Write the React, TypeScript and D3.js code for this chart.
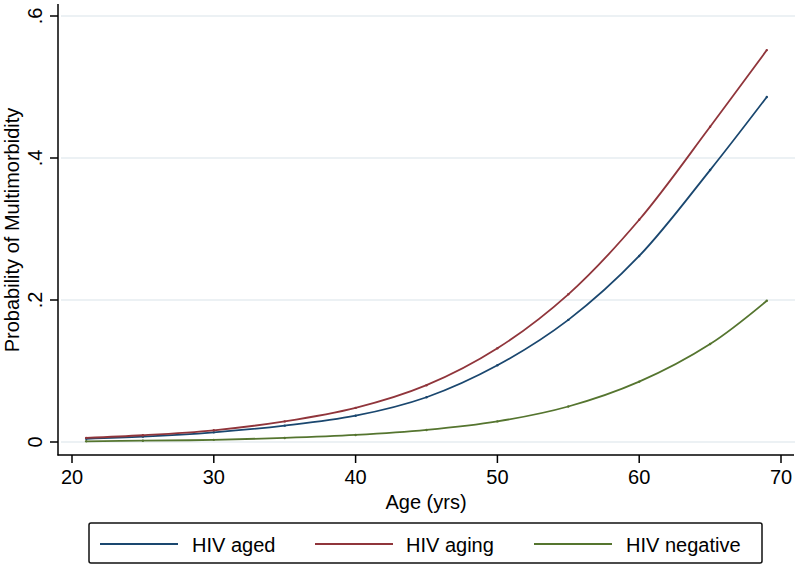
import React from "react";
import * as d3 from "d3";

const ages = [21, 25, 30, 35, 40, 45, 50, 55, 60, 65, 69];
const hivAged = [0.0045, 0.0075, 0.0136, 0.023, 0.037, 0.063, 0.108, 0.172, 0.262, 0.383, 0.486];
const hivAging = [0.0058, 0.0095, 0.0165, 0.029, 0.048, 0.08, 0.132, 0.208, 0.313, 0.444, 0.552];
const hivNegative = [0.001, 0.0018, 0.003, 0.0057, 0.0099, 0.017, 0.029, 0.05, 0.085, 0.138, 0.199];

const xTicks = [20, 30, 40, 50, 60, 70];
const yTicks = [0, 0.2, 0.4, 0.6];
const yTickLabels = ["0", ".2", ".4", ".6"];

const seriesNames = ["HIV aged", "HIV aging", "HIV negative"];
const seriesColors = ["#1a476f", "#90353b", "#55752f"];
const seriesValues = [hivAged, hivAging, hivNegative];

const FONT = "'Liberation Sans', Arial, Helvetica, sans-serif";

export default function App() {
  const W = 798;
  const H = 567;
  const axisLeft = 58;
  const axisRight = 794;
  const axisBottom = 455;
  const axisTop = 4;

  const x = d3.scaleLinear().domain([20, 70]).range([72, 781]);
  const y = d3.scaleLinear().domain([0, 0.6]).range([442, 16]);

  const line = d3
    .line<[number, number]>()
    .x((d) => x(d[0]))
    .y((d) => y(d[1]))
    .curve(d3.curveCatmullRom.alpha(0.5));

  const legendItems = [
    { lx: 100, tx: 192 },
    { lx: 315, tx: 406 },
    { lx: 534, tx: 626 },
  ];

  return (
    <svg
      width={W}
      height={H}
      style={{ position: "absolute", left: 0, top: 0, background: "#fff" }}
      fontFamily={FONT}
    >
      <rect x={0} y={0} width={W} height={H} fill="#fff" />
      {yTicks.map((t) => (
        <line
          key={"g" + t}
          x1={axisLeft + 3}
          x2={axisRight + 1}
          y1={y(t)}
          y2={y(t)}
          stroke="#e6edf1"
          strokeWidth={1.5}
        />
      ))}
      {seriesValues.map((vals, i) => {
        const pts: [number, number][] = ages.map((a, j) => [a, vals[j]]);
        return (
          <g key={"s" + i}>
            <path d={line(pts) || ""} fill="none" stroke={seriesColors[i]} strokeWidth={1.8} />
            {pts.map((p, j) => (
              <circle key={j} cx={x(p[0])} cy={y(p[1])} r={1.2} fill={seriesColors[i]} />
            ))}
          </g>
        );
      })}
      <line x1={axisLeft} x2={axisLeft} y1={axisTop} y2={axisBottom + 0.5} stroke="#000" strokeWidth={1.5} />
      <line x1={axisLeft - 0.5} x2={axisRight} y1={axisBottom} y2={axisBottom} stroke="#000" strokeWidth={1.5} />
      {yTicks.map((t, i) => (
        <g key={"yt" + t}>
          <line x1={axisLeft - 8} x2={axisLeft} y1={y(t)} y2={y(t)} stroke="#000" strokeWidth={1.5} />
          <text
            transform={`translate(42,${y(t)}) rotate(-90)`}
            textAnchor="middle"
            fontSize={20}
            fill="#000"
          >
            {yTickLabels[i]}
          </text>
        </g>
      ))}
      {xTicks.map((t) => (
        <g key={"xt" + t}>
          <line x1={x(t)} x2={x(t)} y1={axisBottom} y2={axisBottom + 8} stroke="#000" strokeWidth={1.5} />
          <text x={x(t)} y={484} textAnchor="middle" fontSize={20} fill="#000">
            {t}
          </text>
        </g>
      ))}
      <text x={(axisLeft + axisRight) / 2} y={509} textAnchor="middle" fontSize={20} fill="#000">
        Age (yrs)
      </text>
      <text
        transform={`translate(19,230) rotate(-90)`}
        textAnchor="middle"
        fontSize={20}
        fill="#000"
      >
        Probability of Multimorbidity
      </text>
      <rect x={89} y={523} width={673} height={40} rx={2} fill="#fff" stroke="#111" strokeWidth={1.5} />
      {legendItems.map((it, i) => (
        <g key={"l" + i}>
          <line x1={it.lx} x2={it.lx + 78} y1={544} y2={544} stroke={seriesColors[i]} strokeWidth={1.8} />
          <text x={it.tx} y={552} fontSize={20} fill="#000">
            {seriesNames[i]}
          </text>
        </g>
      ))}
    </svg>
  );
}
